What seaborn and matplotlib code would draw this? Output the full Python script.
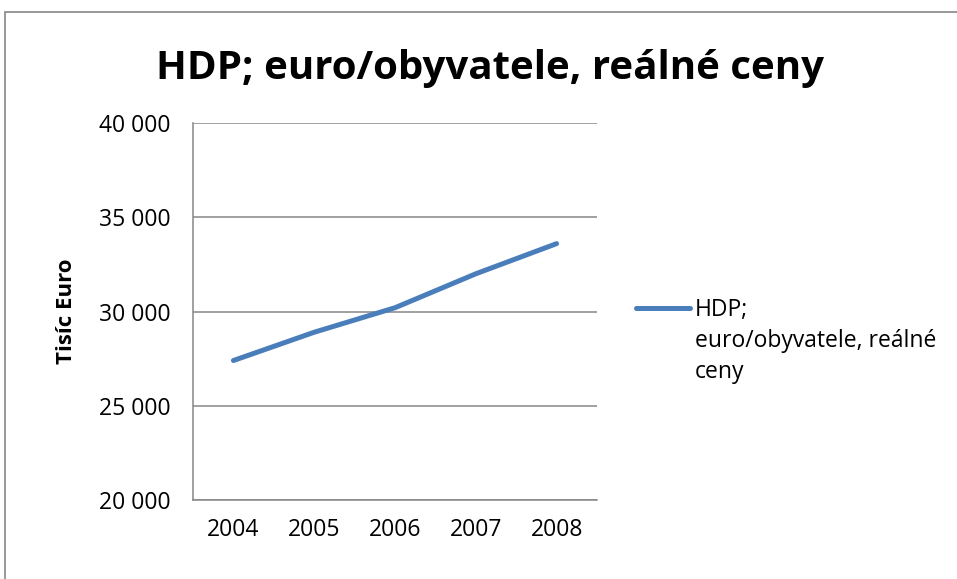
import seaborn as sns
import matplotlib.pyplot as plt
import pandas as pd
from matplotlib.patches import Rectangle

# data
years = ['2004', '2005', '2006', '2007', '2008']
hdp = [27400, 28900, 30200, 32000, 33600]
series_name = 'HDP; euro/obyvatele, reálné ceny'

df = pd.DataFrame({'rok': years, 'hdp': hdp})

sns.set_style('white')
plt.rcParams['font.family'] = ['Open Sans', 'DejaVu Sans']
plt.rcParams['text.color'] = 'black'
plt.rcParams['axes.labelcolor'] = 'black'
plt.rcParams['xtick.color'] = 'black'
plt.rcParams['ytick.color'] = 'black'

fig = plt.figure(figsize=(9.57, 5.79), dpi=100)
ax = fig.add_axes([0.2017, 0.1364, 0.4221, 0.6512])

sns.lineplot(data=df, x='rok', y='hdp', ax=ax, color='#4A7EBB',
             linewidth=3.6, solid_capstyle='round', sort=False)

ax.set_xlim(-0.5, len(years) - 0.5)
ax.set_ylim(20000, 40000)
ax.set_yticks(range(20000, 40001, 5000))
ax.set_yticklabels(['{:,}'.format(v).replace(',', ' ') for v in range(20000, 40001, 5000)])
ax.yaxis.grid(True, color='#868686', linewidth=1.1)
ax.xaxis.grid(False)
for s in ['top', 'right']:
    ax.spines[s].set_visible(False)
for s in ['left', 'bottom']:
    ax.spines[s].set_color('#868686')
    ax.spines[s].set_linewidth(1.1)
ax.tick_params(axis='y', length=0, pad=16, labelsize=16.5)
ax.tick_params(axis='x', length=0, pad=13, labelsize=16.5)
ax.set_xlabel('')
ax.set_ylabel('Tisíc Euro', fontsize=16, fontweight='bold', labelpad=16)

fig.text(0.512, 1 - 68 / 579, series_name, ha='center', va='center',
         fontsize=29, fontweight='bold')

# legend drawn manually to mimic the wrapped Excel legend
fig.add_artist(plt.Line2D([636 / 957, 690 / 957], [1 - 308 / 579, 1 - 308 / 579],
                          color='#4A7EBB', linewidth=3.6, solid_capstyle='round'))
fig.text(695 / 957, 1 - 298 / 579, 'HDP;\neuro/obyvatele, reálné\nceny',
         fontsize=16.5, va='top', ha='left', linespacing=1.4)

# outer chart border
fig.add_artist(Rectangle((5 / 957, -0.01), 1.0, 1 - 12 / 579 + 0.01,
                         transform=fig.transFigure, fill=False,
                         edgecolor='#868686', linewidth=1.2))

fig.savefig('out.png', dpi=100)
